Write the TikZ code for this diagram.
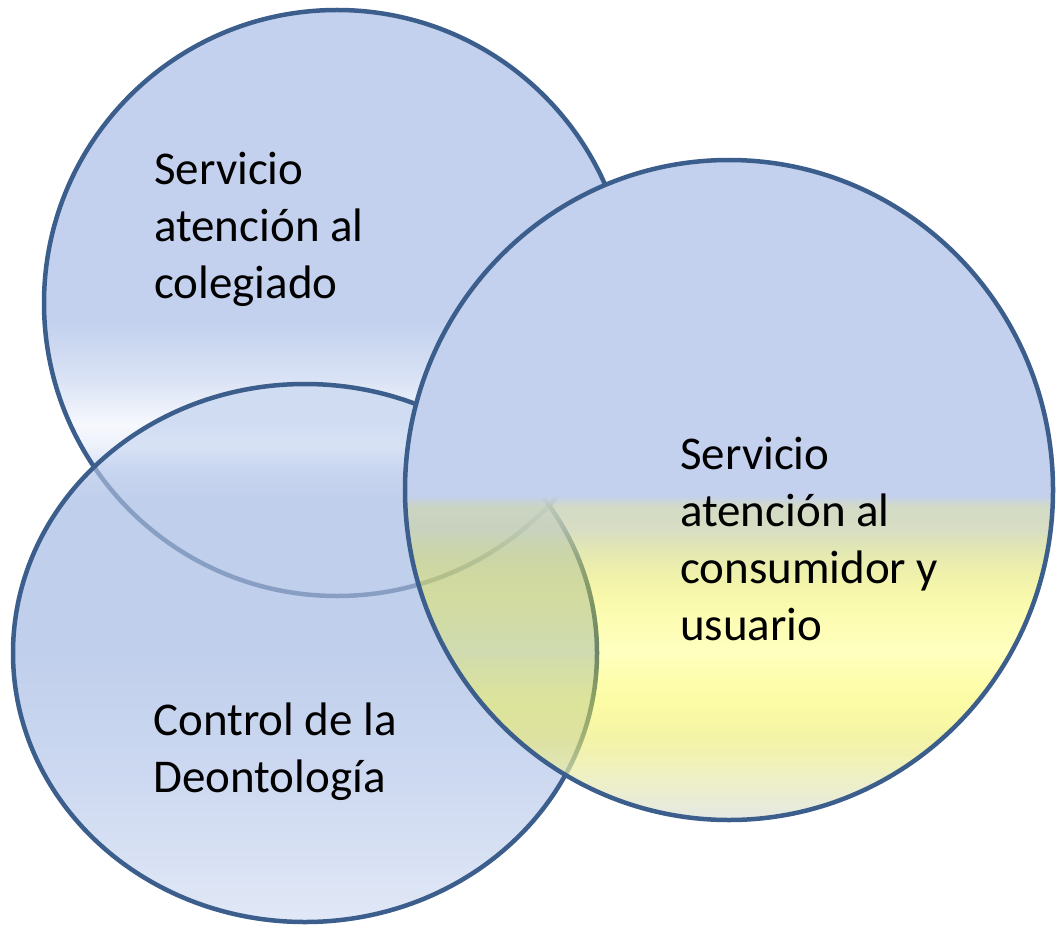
\documentclass[tikz,border=0pt]{standalone}
\usepackage{fontspec}
\setmainfont{Carlito}
\usetikzlibrary{fadings}

\definecolor{edgeblue}{RGB}{59,94,140}
\definecolor{cA0}{RGB}{195,209,238}
\definecolor{cA1}{RGB}{218,227,245}
\definecolor{cA2}{RGB}{246,248,253}
\definecolor{cA3}{RGB}{238,242,251}
\definecolor{cA4}{RGB}{200,213,240}

\definecolor{cB0}{RGB}{225,232,246}
\definecolor{cB1}{RGB}{205,217,241}
\definecolor{cB2}{RGB}{192,207,236}
\definecolor{cB3}{RGB}{200,213,239}
\definecolor{cB4}{RGB}{216,226,245}
\definecolor{cB5}{RGB}{208,220,242}

\definecolor{cC2}{RGB}{205,213,190}
\definecolor{cC3}{RGB}{203,212,176}
\definecolor{cC4}{RGB}{214,220,112}
\definecolor{cC5}{RGB}{240,240,40}
\definecolor{cC6}{RGB}{255,255,4}
\definecolor{cC7}{RGB}{248,248,55}
\definecolor{cC8}{RGB}{235,235,110}
\definecolor{cC9}{RGB}{232,235,182}
\definecolor{cC10}{RGB}{223,228,223}

\pgfdeclareverticalshading{shadeA}{100bp}{color(0bp)=(cA0); color(25bp)=(cA0); color(34bp)=(cA4); color(38bp)=(cA3); color(39.6bp)=(cA2); color(43.5bp)=(cA1); color(48.5bp)=(cA0); color(100bp)=(cA0)}

\pgfdeclareverticalshading{shadeB}{100bp}{color(0bp)=(cB0); color(25bp)=(cB0); color(38.2bp)=(cB1); color(50.3bp)=(cB2); color(64.2bp)=(cB2); color(67bp)=(cB3); color(69.3bp)=(cB4); color(71.6bp)=(cB5); color(75bp)=(cB5); color(100bp)=(cB5)}

\pgfdeclareverticalshading{shadeC}{100bp}{color(0bp)=(cC10); color(25bp)=(cC10); color(28.05bp)=(cC9); color(31.05bp)=(cC8); color(34.1bp)=(cC7); color(37.9bp)=(cC6); color(41.65bp)=(cC5); color(44.7bp)=(cC4); color(46.95bp)=(cC3); color(48.75bp)=(cC2); color(49.6bp)=(cA0); color(75bp)=(cA0); color(100bp)=(cA0)}

\pgfdeclareverticalshading{fadeCshade}{100bp}{color(0bp)=(white!85!black); color(25bp)=(white!85!black); color(28.05bp)=(white!75!black); color(31.05bp)=(white!60!black); color(34.1bp)=(white!45!black); color(37.9bp)=(white!25!black); color(41.65bp)=(white!38!black); color(44.7bp)=(white!56!black); color(46.95bp)=(white!76!black); color(48.75bp)=(white!88!black); color(49.6bp)=(white); color(100bp)=(white)}
\pgfdeclarefading{fadeC}{\pgfuseshading{fadeCshade}}

\tikzset{
  rim/.style={draw=edgeblue, line width=4.5pt},
  label/.style={anchor=base west, inner sep=0pt, text=black,
    font=\fontsize{47}{57}\selectfont}
}

\begin{document}
\begin{tikzpicture}[x=1pt, y=-1pt]
\useasboundingbox (0,0) rectangle (1056,925);

\coordinate (c1) at (337,303);
\coordinate (c2) at (305,653);
\coordinate (c3) at (729,490);

% circle 1
\shade[shading=shadeA] (c1) circle [radius=293pt];
\draw[rim] (c1) circle [radius=293pt];

% circle 2
\shade[shading=shadeB] (c2) ellipse [x radius=292pt, y radius=269pt];
\begin{scope}
  \clip (c2) ellipse [x radius=292pt, y radius=269pt];
  \draw[rim, draw opacity=0.42] (c1) circle [radius=293pt];
\end{scope}
\draw[rim] (c2) ellipse [x radius=292pt, y radius=269pt];

% circle 3
\shade[shading=shadeC, path fading=fadeC] (c3) ellipse [x radius=324pt, y radius=330pt];
\draw[rim] (c3) ellipse [x radius=324pt, y radius=330pt];

% texts
\node[label] (t1) at (154,185) {\vtop{\hbox{Servicio}\hbox{atención al}\hbox{colegiado}}};
\node[label] (t3) at (680,469) {\vtop{\hbox{Servicio}\hbox{atención al}\hbox{consumidor y}\hbox{usuario}}};
\node[label] (t2) at (153,735) {\vtop{\hbox{Control de la}\hbox{Deontología}}};
\end{tikzpicture}
\end{document}
